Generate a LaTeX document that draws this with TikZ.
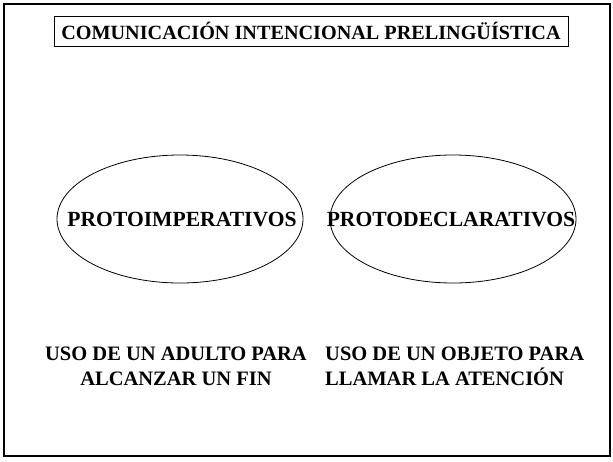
\documentclass[tikz,border=0pt]{standalone}
\usepackage{fontspec}
\setmainfont{Liberation Serif}
\usetikzlibrary{shapes.geometric}
\begin{document}
\begin{tikzpicture}[x=1pt,y=-1pt,
  lbl/.style={font=\fontsize{20.5}{25}\selectfont\bfseries, inner sep=0pt},
  big/.style={font=\fontsize{21.6}{26}\selectfont\bfseries, inner sep=0pt},
  oval/.style={draw, ellipse, line width=0.8pt, minimum width=246pt, minimum height=128pt, inner sep=0pt}]
\useasboundingbox (0,0) rectangle (613,461);
\draw[line width=2pt] (4,4) rectangle (610,456);
\node[draw, line width=0.8pt, minimum width=514pt, minimum height=30pt, inner sep=0pt, font=\fontsize{20.2}{25}\selectfont\bfseries] (title) at (311,31) {COMUNICACIÓN INTENCIONAL PRELINGÜÍSTICA};
\node[oval] (e1) at (180,219) {};
\node[oval] (e2) at (453,219) {};
\node[big] (t1) at (182,220) {PROTOIMPERATIVOS};
\node[big] (t2) at (451,220) {PROTODECLARATIVOS};
\node[lbl, align=center] (b1) at (176,366) {USO DE UN ADULTO PARA\\ALCANZAR UN FIN};
\node[lbl, align=left, anchor=west] (b2) at (325,366) {USO DE UN OBJETO PARA\\LLAMAR LA ATENCIÓN};
\end{tikzpicture}
\end{document}
